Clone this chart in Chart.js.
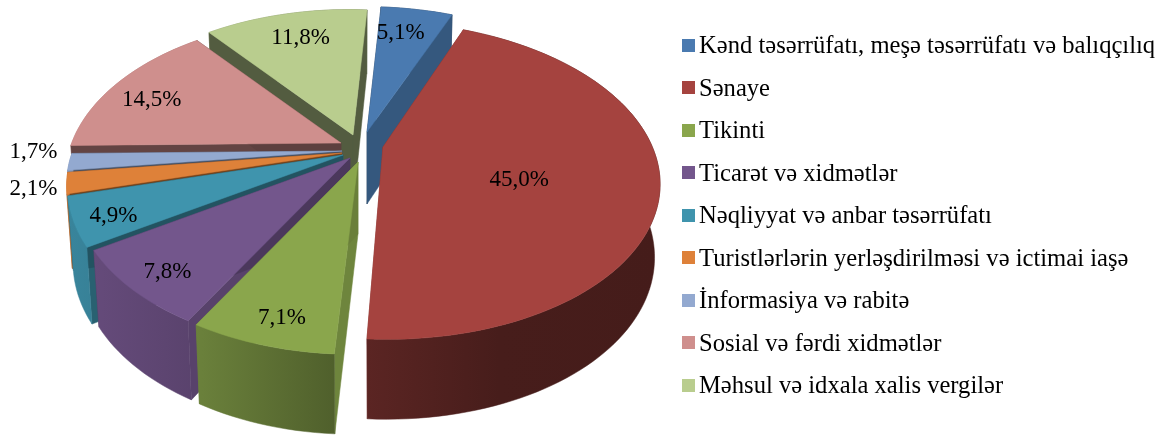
<!DOCTYPE html>
<html>
<head>
<meta charset="utf-8">
<script src="https://cdn.jsdelivr.net/npm/chart.js@4"></script>
<style>
  body { margin: 0; background: #fff; }
  #wrap { position: relative; width: 1167px; height: 436px; overflow: hidden; filter: blur(0.4px); }
  #legend { position: absolute; left: 682px; top: 24px; font: 24.6px "Liberation Serif", serif; color: #000; }
  .row { height: 42.5px; display: flex; align-items: center; white-space: pre; }
  .box { width: 13px; height: 13px; margin-right: 4px; flex: none; }
</style>
</head>
<body>
<div id="wrap">
  <canvas id="pie" width="1167" height="436"></canvas>
  <div id="legend"></div>
</div>
<script>
// Chart data
const categories = [
  'Kənd təsərrüfatı, meşə təsərrüfatı və balıqçılıq',
  'Sənaye',
  'Tikinti',
  'Ticarət və xidmətlər',
  'Nəqliyyat və anbar təsərrüfatı',
  'Turistlərlərin yerləşdirilməsi və ictimai iaşə',
  'İnformasiya və rabitə',
  'Sosial və fərdi xidmətlər',
  'Məhsul və idxala xalis vergilər',
];
const shares = [5.1, 45.0, 7.1, 7.8, 4.9, 2.1, 1.7, 14.5, 11.8];
const colors = ['#4a7ab0', '#a5433f', '#8aa64c', '#73568c', '#3f94ad', '#de8139', '#93a9d0', '#cf8f8d', '#b9cd8e'];

// Look of the tilted pie
const center = { x: 355, y: 150 };
const tilt = { rxLeft: 265, rxRight: 273, ry: 151.5, persp: 0.211, shearY: 10, depth: 72, depthFront: 0.11, shrink: 0.02 };
const shearX = [17, 11, 17, 17, 17, 17, 17, 17, 17];
const explode = [[12, -18], [28, -3], [3, 12], [-5, 8], [-12, 5], [-13, 3], [-13, 1], [-14, -7], [-2, -15]];
const labelRadius = [0.81, 0.5, 0.85, 0.85, 0.85, 1.1, 1.11, 0.8, 0.8];
const labelNudge = [[-8, 4], [0, 15], [3, 6], [-2, 6], [-4, 5], [-4, 3], [-5, -11], [-8, 6], [3, 3]];
const wallStops = [[0, 0.9], [0.23, 0.77], [0.45, 0.58], [0.73, 0.43], [1, 0.42]];

// Darken a hex colour by a factor
function shade(hex, f) {
  const n = parseInt(hex.slice(1), 16);
  const c = [n >> 16, (n >> 8) & 255, n & 255].map((v) => Math.round(v * f));
  return `rgb(${c[0]}, ${c[1]}, ${c[2]})`;
}

// Project a point of the unit disc to the screen, z = 0 top face, z = 1 bottom face
function project(i, u, v, z) {
  const s = 1 / (1 - tilt.persp * v);
  const k = 1 - tilt.shrink * z;
  const rx = u < 0 ? tilt.rxLeft : tilt.rxRight;
  return {
    x: center.x + explode[i][0] + (rx * u - shearX[i] * v) * s * k,
    y: center.y + explode[i][1] + (tilt.ry * v + tilt.shearY * u) * s + tilt.depth * z * (1 + tilt.depthFront * v),
  };
}

function rimPoints(i, a0, a1, z) {
  const steps = Math.max(4, Math.ceil((a1 - a0) / 0.03));
  const pts = [];
  for (let n = 0; n <= steps; n++) {
    const a = a0 + ((a1 - a0) * n) / steps;
    pts.push(project(i, Math.cos(a), Math.sin(a), z));
  }
  return pts;
}

function fillPoly(ctx, pts, style) {
  ctx.beginPath();
  pts.forEach((p, n) => (n ? ctx.lineTo(p.x, p.y) : ctx.moveTo(p.x, p.y)));
  ctx.closePath();
  ctx.fillStyle = style;
  ctx.strokeStyle = style;
  ctx.lineWidth = 0.5;
  ctx.fill();
  ctx.stroke();
}

// Radial side of a slice, brighter when it faces the viewer or the right
function drawRadialWall(ctx, i, a) {
  const u = Math.cos(a);
  const v = Math.sin(a);
  const color = shade(colors[i], 0.45 + 0.35 * Math.max(0, v) + 0.85 * Math.max(0, u));
  fillPoly(ctx, [project(i, 0, 0, 0), project(i, u, v, 0), project(i, u, v, 1), project(i, 0, 0, 1)], color);
}

function drawRimWall(ctx, i, a0, a1) {
  const wall = ctx.createLinearGradient(65, 0, 660, 0);
  wallStops.forEach((s) => wall.addColorStop(s[0], shade(colors[i], s[1])));
  fillPoly(ctx, rimPoints(i, a0, a1, 0).concat(rimPoints(i, a0, a1, 1).reverse()), wall);
}

// Draws the slices from the angles computed by the doughnut controller
const tiltedPie = {
  id: 'tiltedPie',
  beforeDatasetsDraw(chart) {
    const ctx = chart.ctx;
    const arcs = chart.getDatasetMeta(0).data;
    const order = [0, 8, 7, 6, 5, 4, 3, 2, 1];

    order.forEach((i) => {
      const a0 = arcs[i].startAngle;
      const a1 = arcs[i].endAngle;
      const isBack = Math.sin((a0 + a1) / 2) < 0;
      if (isBack) drawRimWall(ctx, i, a0, a1);
      drawRadialWall(ctx, i, a0);
      drawRadialWall(ctx, i, a1);
      if (!isBack) drawRimWall(ctx, i, a0, a1);
      fillPoly(ctx, [project(i, 0, 0, 0)].concat(rimPoints(i, a0, a1, 0)), colors[i]);
    });

    ctx.save();
    ctx.font = '23px "Liberation Serif", serif';
    ctx.fillStyle = '#000';
    ctx.textAlign = 'center';
    ctx.textBaseline = 'middle';
    arcs.forEach((arc, i) => {
      const mid = (arc.startAngle + arc.endAngle) / 2;
      const r = labelRadius[i];
      const p = project(i, Math.cos(mid) * r, Math.sin(mid) * r, 0);
      const text = shares[i].toFixed(1).replace('.', ',') + '%';
      ctx.fillText(text, p.x + labelNudge[i][0], p.y + labelNudge[i][1]);
    });
    ctx.restore();
    return false;
  },
};

new Chart(document.getElementById('pie'), {
  type: 'pie',
  data: {
    labels: categories,
    datasets: [{ data: shares, backgroundColor: colors, borderWidth: 0 }],
  },
  options: {
    responsive: false,
    animation: false,
    plugins: { legend: { display: false }, tooltip: { enabled: false } },
  },
  plugins: [tiltedPie],
});

// HTML legend
const legend = document.getElementById('legend');
categories.forEach((name, i) => {
  const row = document.createElement('div');
  row.className = 'row';
  const box = document.createElement('span');
  box.className = 'box';
  box.style.background = colors[i];
  row.appendChild(box);
  row.appendChild(document.createTextNode(name));
  legend.appendChild(row);
});
</script>
</body>
</html>
